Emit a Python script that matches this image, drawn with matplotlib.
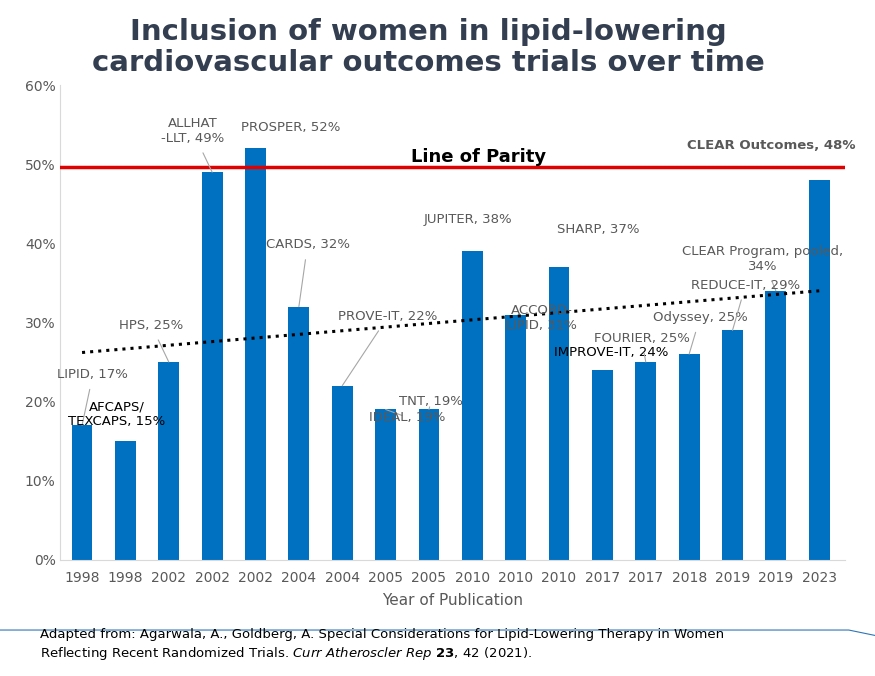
import matplotlib.pyplot as plt
import numpy as np

years = ['1998', '1998', '2002', '2002', '2002', '2004', '2004', '2005', '2005',
         '2010', '2010', '2010', '2017', '2017', '2018', '2019', '2019', '2023']
women = [17, 15, 25, 49, 52, 32, 22, 19, 19, 39, 31, 37, 24, 25, 26, 29, 34, 48]
trend_start, trend_end = 26.2, 34.0
parity = 49.6

# label text, bar index, label x, label y, colour, bold, leader line
labels = [
    ('LIPID, 17%', 0, 0.25, 23.4, 'gray', False, True),
    ('AFCAPS/\nTEXCAPS, 15%', 1, 0.8, 18.4, 'black', False, False),
    ('HPS, 25%', 2, 1.6, 29.6, 'gray', False, True),
    ('ALLHAT\n-LLT, 49%', 3, 2.55, 54.2, 'gray', False, True),
    ('PROSPER, 52%', 4, 4.8, 54.6, 'gray', False, False),
    ('CARDS, 32%', 5, 5.2, 39.8, 'gray', False, True),
    ('PROVE-IT, 22%', 6, 7.05, 30.7, 'gray', False, True),
    ('IDEAL, 19%', 7, 7.5, 18.0, 'gray', False, True),
    ('TNT, 19%', 8, 8.05, 20.0, 'gray', False, True),
    ('JUPITER, 38%', 9, 8.9, 43.0, 'gray', False, False),
    ('ACCORD-\nLIPID, 31%', 10, 10.6, 30.5, 'gray', False, False),
    ('SHARP, 37%', 11, 11.9, 41.8, 'gray', False, False),
    ('IMPROVE-IT, 24%', 12, 12.2, 26.2, 'black', False, False),
    ('FOURIER, 25%', 13, 12.9, 28.0, 'gray', False, True),
    ('Odyssey, 25%', 14, 14.25, 30.6, 'gray', False, True),
    ('CLEAR Program, pooled,\n34%', 16, 15.7, 38.0, 'gray', False, True),
    ('REDUCE-IT, 29%', 15, 15.3, 34.7, 'gray', False, True),
    ('CLEAR Outcomes, 48%', 17, 15.9, 52.4, 'gray', True, False),
]

fig = plt.figure(figsize=(8.75, 6.76), dpi=100)
ax = fig.add_axes([0.069, 0.172, 0.897, 0.702])
x = np.arange(len(years))
ax.bar(x, women, width=0.48, color='#0070C0', zorder=2)
ax.plot([0, len(years) - 1], [trend_start, trend_end], ':', color='black', lw=2.2, zorder=3)
ax.axhline(parity, color='#E00000', lw=2.5, zorder=3)
ax.text(9.15, parity + 1.3, 'Line of Parity', ha='center', va='center',
        fontsize=13, fontweight='bold', color='black')

lab_gray = '#595959'
for text, i, tx, ty, col, bold, line in labels:
    c = lab_gray if col == 'gray' else 'black'
    if line:
        ax.annotate(text, xy=(i, women[i]), xytext=(tx, ty), ha='center', va='center',
                    fontsize=9.5, color=c, fontweight='bold' if bold else 'normal',
                    arrowprops=dict(arrowstyle='-', color='#A6A6A6', lw=0.8, shrinkB=0, shrinkA=4))
    else:
        ax.text(tx, ty, text, ha='center', va='center', fontsize=9.5, color=c,
                fontweight='bold' if bold else 'normal')

ax.set_xlim(-0.5, 17.6)
ax.set_ylim(0, 60)
ax.set_xticks(x)
ax.set_xticklabels(years)
ax.set_yticks(range(0, 61, 10))
ax.set_yticklabels([f'{v}%' for v in range(0, 61, 10)])
ax.tick_params(colors=lab_gray, labelsize=10, length=0)
ax.tick_params(axis='x', pad=8)
for s in ['top', 'right']:
    ax.spines[s].set_visible(False)
ax.spines['left'].set_color('#D9D9D9')
ax.spines['bottom'].set_color('#D9D9D9')
ax.set_xlabel('Year of Publication', color=lab_gray, fontsize=11, labelpad=6)

fig.text(0.49, 0.93, 'Inclusion of women in lipid-lowering\ncardiovascular outcomes trials over time',
         ha='center', va='center', fontsize=21, fontweight='bold', color='#333F50', linespacing=1.15)
fig.add_artist(plt.Line2D([0.0, 0.97, 1.0], [0.068, 0.068, 0.06], color='#2E75B6', lw=0.8))
fig.text(0.046, 0.046, 'Adapted from: Agarwala, A., Goldberg, A. Special Considerations for Lipid-Lowering Therapy in Women\n'
         'Reflecting Recent Randomized Trials. $\\it{Curr\\ Atheroscler\\ Rep}$ $\\bf{23}$, 42 (2021).',
         ha='left', va='center', fontsize=9.5, color='black', linespacing=1.4)
fig.savefig('out.png')
